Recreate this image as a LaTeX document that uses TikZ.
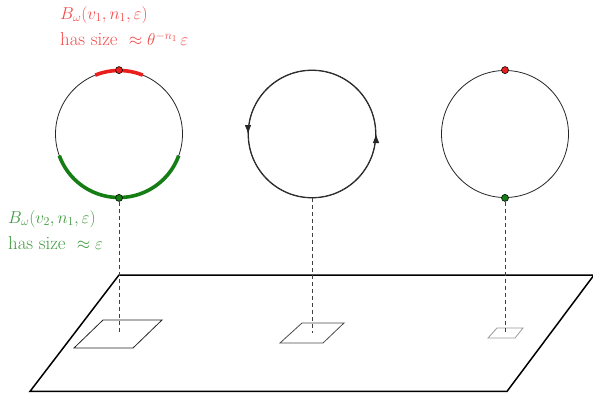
\documentclass[tikz,border=0pt]{standalone}
\usetikzlibrary{arrows.meta,decorations.markings}
\definecolor{ballred}{RGB}{235,30,30}
\definecolor{ballgreen}{RGB}{20,125,20}
\definecolor{labred}{RGB}{245,75,75}
\definecolor{labgreen}{RGB}{65,155,65}
\tikzset{
  ring/.style={circle,draw=black!85,line width=0.8pt,minimum size=127pt,inner sep=0pt},
  redarc/.style={ballred,line width=3.6pt},
  greenarc/.style={ballgreen,line width=3.6pt},
  reddot/.style={circle,draw=black,fill=ballred,line width=0.6pt,minimum size=7pt,inner sep=0pt},
  greendot/.style={circle,draw=black,fill=ballgreen,line width=0.6pt,minimum size=7pt,inner sep=0pt},
  drop/.style={black!75,line width=0.8pt,dash pattern=on 4pt off 3pt},
  plane/.style={black,line width=1.5pt,line join=miter},
  patch/.style={line width=0.8pt,line join=miter},
  lab/.style={anchor=north west,align=left,inner sep=0pt,font=\fontsize{18.8}{26.5}\selectfont},
  flow/.style={decoration={markings,
      mark=at position 0.25 with {\arrow{Latex[length=9pt,width=6.5pt]}},
      mark=at position 0.75 with {\arrow{Latex[length=9pt,width=6.5pt]}}},
    postaction={decorate}}
}
\begin{document}
\begin{tikzpicture}[x=1pt,y=1pt]
\clip (0,0) rectangle (593,392);
\fill[white] (0,0) rectangle (593,392);

% ground plane
\draw[plane] (30,0.6) -- (119,117) -- (594,117) -- (507,0.6) -- cycle;

% patches on the plane
\draw[patch,black!85] (103,72) -- (162,72) -- (133,44) -- (74,44) -- cycle;
\draw[patch,black!70] (302,69) -- (344,69) -- (323,49) -- (280,49) -- cycle;
\draw[patch,black!40] (497,64) -- (523,64) -- (515,54) -- (488,54) -- cycle;
\coordinate (p1) at (119,59);
\coordinate (p2) at (312,59);
\coordinate (p3) at (505,59);

% first circle with the two balls
\node[ring] (c1) at (119,258) {};
\draw[redarc] (c1.center) ++(68:63.5) arc (68:112:63.5);
\draw[greenarc] (c1.center) ++(200:63.5) arc (200:340:63.5);
\node[reddot] (r1) at (c1.north) {};
\node[greendot] (g1) at (c1.south) {};

% second circle, oriented
\node[ring] (c2) at (312,258) {};
\draw[black!85,line width=0.8pt,flow] (c2.center) ++(-90:64) arc (-90:270:64);

% third circle
\node[ring] (c3) at (505,258) {};
\node[reddot] (r3) at (c3.north) {};
\node[greendot] (g3) at (c3.south) {};

% vertical projections
\draw[drop] (g1) -- (p1);
\draw[drop] (c2.south) -- (p2);
\draw[drop] (g3) -- (p3);

% labels
\node[lab,labred] (t1) at (60,386) {$B_\omega(v_1,n_1,\varepsilon)$\\has size~~$\approx\theta^{-n_1}\,\varepsilon$};
\node[lab,labgreen] (t2) at (8,182) {$B_\omega(v_2,n_1,\varepsilon)$\\has size~~$\approx\varepsilon$};
\end{tikzpicture}
\end{document}
